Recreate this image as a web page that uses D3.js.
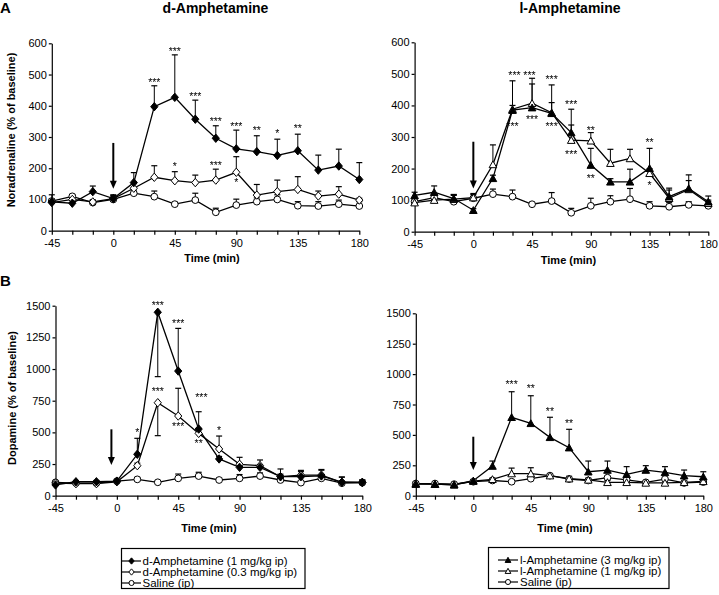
<!DOCTYPE html>
<html><head><meta charset="utf-8">
<script src="https://cdn.jsdelivr.net/npm/d3@7"></script>
<style>
html,body{margin:0;padding:0;background:#fff;}
svg{display:block;font-family:"Liberation Sans",Arial,sans-serif;}
</style></head>
<body>
<svg id="chart" width="719" height="595">
  <defs><filter id="gray" x="-20%" y="-50%" width="140%" height="200%"><feOffset dx="0" dy="0"/></filter></defs>
</svg>
<script>
// ---------- DATA ----------
const times = [-45,-30,-15,0,15,30,45,60,75,90,105,120,135,150,165,180];
const xTickLabels = [-45,0,45,90,135,180];
const naTicks = [0,100,200,300,400,500,600];
const daTicks = [0,250,500,750,1000,1250,1500];

// Noradrenaline, d-amphetamine panel (negative SEM = bar drawn downward)
const naD1     = [92,88,125,103,154,397,427,357,296,262,253,241,256,194,207,164];
const naD1Sem  = [10,8,18,12,32,67,136,61,40,60,51,52,53,48,54,54];
const naD03    = [90,100,92,103,136,171,160,154,162,187,114,125,132,111,117,98];
const naD03Sem = [8,8,6,10,15,37,29,24,35,50,34,37,41,16,24,6];
const naSalD   = [95,110,90,100,120,109,85,98,59,82,93,100,80,79,85,79];
const naSalDSem= [20,6,8,10,10,18,6,22,13,19,12,15,13,14,13,14];

// Noradrenaline, l-amphetamine panel
const naL3     = [115,125,105,68,169,385,393,375,314,211,158,158,201,111,137,95];
const naL3Sem  = [10,20,12,5,10,15,75,34,74,53,10,40,63,21,25,18];
const naL1     = [92,100,103,108,213,388,407,377,290,288,217,232,185,106,134,90];
const naL1Sem  = [8,10,15,10,62,90,79,88,48,26,44,29,15,32,46,10];
const naSalL   = [95,108,95,106,119,111,87,97,60,82,95,103,82,79,85,82];
const naSalLSem= [8,10,20,15,16,21,6,27,14,24,19,34,13,13,10,13];

// Dopamine, d-amphetamine panel
const daD1     = [85,110,110,115,327,1448,984,526,290,224,224,150,150,156,106,106];
const daD1Sem  = [10,10,10,10,126,-508,337,137,20,20,20,20,40,45,40,20];
const daD03    = [100,95,95,110,237,734,629,492,369,248,237,150,163,163,106,103];
const daD03Sem = [10,10,10,10,20,-260,219,40,102,55,45,61,37,44,42,20];
const daSalD   = [105,100,100,115,129,106,137,155,124,137,155,124,103,137,99,103];
const daSalDSem= [10,10,10,10,15,10,34,30,15,30,25,15,15,20,15,15];

// Dopamine, l-amphetamine panel
const daL3     = [95,95,90,123,244,645,595,480,395,197,211,176,211,192,165,156];
const daL3Sem  = [10,10,10,10,41,210,227,165,151,88,74,63,36,47,46,41];
const daL1     = [100,95,90,120,135,182,182,165,140,130,110,110,105,105,110,118];
const daL1Sem  = [10,10,10,10,10,45,48,15,20,15,15,15,15,15,15,15];
const daSalL   = [100,100,95,115,125,115,140,165,137,125,148,130,110,137,105,112];
const daSalLSem= [10,10,10,10,10,10,10,10,10,10,10,10,10,10,10,10];

// significance labels [time, value at label, text]
const naDStars = [[30,483,"***"],[45,582,"***"],[60,437,"***"],[75,358,"***"],[90,342,"***"],
  [105,328,"**"],[120,319,"*"],[135,333,"**"],[45,213,"*"],[75,216,"***"],[90,162,"*"]];
const naLStars = [[31.5,502,"***"],[43,502,"***"],[60,490,"***"],[30,341,"***"],[45,363,"***"],
  [60,341,"***"],[75,411,"***"],[75,252,"***"],[90,328,"**"],[90,176,"**"],[135,290,"**"],[135,154,"*"]];
const daDStars = [[15,519,"*"],[30,1519,"***"],[30,842,"***"],[45,1379,"***"],[45,566,"***"],
  [62,789,"***"],[60,426,"**"],[75,534,"*"]];
const daLStars = [[30,929,"***"],[45,896,"**"],[60,710,"**"],[75,609,"**"]];

// injection arrows [time, top value, tip value]
const naDArrow = [0,281,134];
const naLArrow = [0,285,137];
const daDArrow = [-4,524,242];
const daLArrow = [0,485,211];

const legendD = ["d-Amphetamine (1 mg/kg ip)","d-Amphetamine (0.3 mg/kg ip)","Saline (ip)"];
const legendL = ["l-Amphetamine (3 mg/kg ip)","l-Amphetamine (1 mg/kg ip)","Saline (ip)"];

// ---------- DRAWING ----------
const svg = d3.select("#chart");

function markerPath(type, s) {
  const p = d3.path();
  if (type.includes("Diamond")) {
    const w = 3.6*s, h = 4.2*s;
    p.moveTo(0,-h); p.lineTo(w,0); p.lineTo(0,h); p.lineTo(-w,0); p.closePath();
    return p.toString();
  }
  if (type.includes("Triangle")) {
    const w = 3.8*s, h = 3.6*s;
    p.moveTo(0,-h); p.lineTo(w,h*0.9); p.lineTo(-w,h*0.9); p.closePath();
    return p.toString();
  }
  return d3.symbol(d3.symbolCircle, 36*s*s)();
}
function drawMarker(g, type, x, y, s) {
  g.append("path").attr("d", markerPath(type, s))
    .attr("transform", `translate(${x},${y})`)
    .attr("fill", type.startsWith("filled") ? "#000" : "#fff")
    .attr("stroke", "#000").attr("stroke-width", 1);
}

function panel(cfg) {
  const x = d3.scaleLinear().domain([-45,180]).range(cfg.xr);
  const y = d3.scaleLinear().domain([0,cfg.ymax]).range(cfg.yr);
  const g = svg.append("g");

  const xa = g.append("g").attr("transform", `translate(0,${cfg.yr[0]})`)
    .call(d3.axisBottom(x).tickValues(times).tickSize(4).tickSizeOuter(0).tickPadding(5)
      .tickFormat(d => xTickLabels.includes(d) ? d : ""));
  const ya = g.append("g").attr("transform", `translate(${cfg.xr[0]},0)`)
    .call(d3.axisLeft(y).tickValues(cfg.yticks).tickSize(3).tickSizeOuter(0).tickPadding(2)
      .tickFormat(d3.format("d")));
  [xa, ya].forEach(a => {
    a.selectAll("text").attr("font-size", 11).attr("fill", "#000")
      .attr("font-family", '"Liberation Sans",Arial,sans-serif');
    a.selectAll("line,path").attr("stroke", "#000").attr("stroke-width", 1.2);
  });

  // error bars
  cfg.series.forEach(s => {
    s.v.forEach((v, i) => {
      const e = s.e[i];
      const xx = x(times[i]), y1 = y(v), y2 = y(v + e);
      g.append("line").attr("x1", xx).attr("x2", xx).attr("y1", y1).attr("y2", y2)
        .attr("stroke", "#000").attr("stroke-width", 1);
      g.append("line").attr("x1", xx-3).attr("x2", xx+3).attr("y1", y2).attr("y2", y2)
        .attr("stroke", "#000").attr("stroke-width", 1.2);
    });
  });
  // lines
  const line = d3.line().x((d,i) => x(times[i])).y(d => y(d));
  cfg.series.forEach(s => {
    g.append("path").attr("d", line(s.v)).attr("fill", "none")
      .attr("stroke", "#000").attr("stroke-width", 1.3);
  });
  // markers
  cfg.series.forEach(s => {
    s.v.forEach((v, i) => drawMarker(g, s.type, x(times[i]), y(v), 1));
  });
  // stars
  const sg = g.append("g").attr("filter", "url(#gray)");
  cfg.stars.forEach(([t, v, txt]) => {
    sg.append("text").attr("x", x(t)).attr("y", y(v) + 5.7)
      .attr("text-anchor", "middle").attr("font-size", 10.5).attr("fill", "#000").text(txt);
  });
  // arrow
  const [at, a0, a1] = cfg.arrow;
  const ax = x(at);
  g.append("line").attr("x1", ax).attr("x2", ax).attr("y1", y(a0)).attr("y2", y(a1) - 7)
    .attr("stroke", "#000").attr("stroke-width", 2);
  g.append("path").attr("d", `M${ax-3.5},${y(a1)-8}L${ax+3.5},${y(a1)-8}L${ax},${y(a1)}Z`)
    .attr("fill", "#000");

  // axis titles
  g.append("text").attr("x", cfg.xlab[0]).attr("y", cfg.xlab[1]).attr("text-anchor", "middle")
    .attr("font-size", 11).attr("font-weight", "bold").text("Time (min)");
  if (cfg.ylab) {
    g.append("text").attr("transform", `translate(${cfg.ylab[0]},${cfg.ylab[1]}) rotate(-90)`)
      .attr("text-anchor", "middle").attr("font-size", 11).attr("font-weight", "bold")
      .text(cfg.ylab[2]);
  }
}

panel({xr:[51.8,359.3], yr:[230.7,43.3], ymax:600, yticks:naTicks,
  series:[{v:naSalD,e:naSalDSem,type:"openCircle"},{v:naD03,e:naD03Sem,type:"openDiamond"},{v:naD1,e:naD1Sem,type:"filledDiamond"}],
  stars:naDStars, arrow:naDArrow, xlab:[212,262], ylab:[14.5,130,"Noradrenaline (% of baseline)"]});
panel({xr:[414.6,708.3], yr:[231.7,42.3], ymax:600, yticks:naTicks,
  series:[{v:naSalL,e:naSalLSem,type:"openCircle"},{v:naL1,e:naL1Sem,type:"openTriangle"},{v:naL3,e:naL3Sem,type:"filledTriangle"}],
  stars:naLStars, arrow:naLArrow, xlab:[568.5,264]});
panel({xr:[55.5,362.3], yr:[495.7,305.7], ymax:1500, yticks:daTicks,
  series:[{v:daSalD,e:daSalDSem,type:"openCircle"},{v:daD03,e:daD03Sem,type:"openDiamond"},{v:daD1,e:daD1Sem,type:"filledDiamond"}],
  stars:daDStars, arrow:daDArrow, xlab:[209,532], ylab:[15.5,398,"Dopamine (% of baseline)"]});
panel({xr:[415.8,703.3], yr:[495.7,313.3], ymax:1500, yticks:daTicks,
  series:[{v:daSalL,e:daSalLSem,type:"openCircle"},{v:daL1,e:daL1Sem,type:"openTriangle"},{v:daL3,e:daL3Sem,type:"filledTriangle"}],
  stars:daLStars, arrow:daLArrow, xlab:[565,532]});

// panel letters and titles
svg.append("text").attr("x", 0).attr("y", 13).attr("font-size", 15).attr("font-weight", "bold").text("A");
svg.append("text").attr("x", 0).attr("y", 286).attr("font-size", 15).attr("font-weight", "bold").text("B");
svg.append("text").attr("x", 215.5).attr("y", 12.5).attr("text-anchor", "middle")
  .attr("font-size", 14).attr("font-weight", "bold").text("d-Amphetamine");
svg.append("text").attr("x", 570).attr("y", 12.5).attr("text-anchor", "middle")
  .attr("font-size", 14).attr("font-weight", "bold").text("l-Amphetamine");

// legends
function legend(box, labels, types, lx0, lx1, tx) {
  const g = svg.append("g");
  g.append("rect").attr("x", box[0]).attr("y", box[1]).attr("width", box[2]).attr("height", box[3])
    .attr("fill", "none").attr("stroke", "#000").attr("stroke-width", 1.2);
  labels.forEach((lab, i) => {
    const yy = box[1] + 12.5 + i * 11;
    g.append("line").attr("x1", lx0).attr("x2", lx1).attr("y1", yy).attr("y2", yy)
      .attr("stroke", "#000").attr("stroke-width", 1.2);
    drawMarker(g, types[i], (lx0 + lx1) / 2, yy, 0.75);
    g.append("text").attr("x", tx).attr("y", yy + 4.2).attr("font-size", 11.5).text(lab);
  });
}
legend([121.5,548.5,183.5,40], legendD, ["filledDiamond","openDiamond","openCircle"], 122, 141, 142.5);
legend([488.5,547.5,180.5,41], legendL, ["filledTriangle","openTriangle","openCircle"], 498, 518, 520);
</script>
</body></html>
